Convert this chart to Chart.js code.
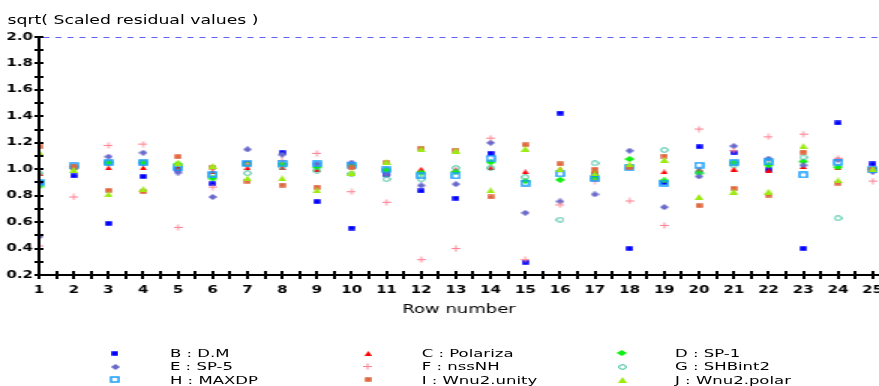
<!DOCTYPE html>
<html><head><meta charset="utf-8">
<script src="https://cdn.jsdelivr.net/npm/chart.js@4/dist/chart.umd.min.js"></script>
<style>
html,body{margin:0;padding:0;background:#fff;overflow:hidden;width:879px;height:386px}
#wrap{position:absolute;left:0;top:0;width:586px;height:386px;transform:scaleX(1.5);transform-origin:0 0;font-family:'DejaVu Sans',sans-serif;color:#000}
#c{position:absolute;left:0;top:0;width:586px;height:386px}
#title{position:absolute;left:5px;top:13px;font-size:11.5px;line-height:14px;white-space:nowrap}
.lg{position:absolute;font-size:11px;line-height:13px;white-space:nowrap}
.mk{position:absolute}
</style></head><body>
<div id="wrap"><canvas id="c" width="586" height="386"></canvas><div id="title">sqrt( Scaled residual values )</div><div id="legend"></div></div>
<script>
// ---- data ----
const rows = [1,2,3,4,5,6,7,8,9,10,11,12,13,14,15,16,17,18,19,20,21,22,23,24,25];
const seriesNames = ['B : D.M','C : Polariza','D : SP-1','E : SP-5','F : nssNH','G : SHBint2','H : MAXDP','I : Wnu2.unity','J : Wnu2.polar'];
const B_DM      = [0.90,0.95,0.59,0.945,1.00,0.89,1.04,1.125,0.755,0.555,0.96,0.836,0.78,1.12,0.296,1.425,0.95,0.40,0.90,1.17,1.125,0.995,0.40,1.35,1.04];
const C_Polariza= [0.97,1.01,1.01,1.01,1.01,0.98,1.01,1.01,0.995,1.03,1.00,1.00,0.995,1.01,0.98,1.00,0.99,1.02,0.98,1.00,1.00,0.99,1.02,1.01,1.00];
const D_SP1     = [0.87,1.02,1.05,1.05,1.04,0.93,1.04,1.04,1.015,1.03,0.995,0.975,0.98,1.053,0.91,0.92,0.93,1.077,0.915,0.97,1.05,1.03,1.058,1.015,1.00];
const E_SP5     = [0.49,1.02,1.095,1.125,0.975,0.79,1.15,1.11,1.04,1.05,0.96,0.877,0.887,1.20,0.67,0.756,0.81,1.14,0.713,0.945,1.175,1.08,1.03,1.07,0.98];
const F_nssNH   = [0.42,0.79,1.18,1.19,0.56,0.865,1.04,1.065,1.12,0.83,0.75,0.316,0.40,1.235,0.316,0.73,0.91,0.76,0.575,1.304,1.14,1.245,1.265,1.083,0.91];
const G_SHBint2 = [0.97,1.01,1.05,1.05,1.02,0.96,0.97,1.02,0.99,0.965,0.925,0.925,1.01,1.01,0.94,0.618,1.045,1.02,1.145,0.98,1.03,1.06,1.09,0.63,1.00];
const H_MAXDP   = [0.90,1.025,1.05,1.05,1.01,0.96,1.045,1.04,1.04,1.03,0.995,0.95,0.95,1.083,0.895,0.965,0.93,1.015,0.895,1.03,1.05,1.055,0.957,1.053,1.00];
const I_Wnu2unity=[1.17,1.02,0.84,0.83,1.095,1.015,0.91,0.88,0.865,1.01,1.05,1.16,1.145,0.79,1.185,1.04,1.00,1.015,1.10,0.725,0.855,0.805,1.13,0.895,1.00];
const J_Wnu2polar=[1.13,0.995,0.81,0.85,1.05,1.025,0.93,0.93,0.84,0.975,1.055,1.15,1.14,0.84,1.155,1.00,0.97,1.037,1.07,0.79,0.83,0.83,1.175,0.915,1.00];
const seriesValues = [B_DM,C_Polariza,D_SP1,E_SP5,F_nssNH,G_SHBint2,H_MAXDP,I_Wnu2unity,J_Wnu2polar];
const Y_MIN = 0.2, Y_MAX = 2.0, Y_STEP = 0.1;
const X_MIN = 1, X_MAX = 25.18, X_STEP = 0.5;

// ---- styles ----
const markerKinds = ['rectFill','tri','diamondWide','diamond','plus','circle','openRect','rectFill','triBig'];
const colors = ['#0000ff','#ff0000','#11ee11','#6a6acc','#ff8090','#33bb99','#1a9fff','#e0683f','#9bea10'];

function makeMarker(kind, color){
  const c = document.createElement('canvas');
  const dims = {rectFill:[5,5],tri:[5,5],triBig:[6,6],diamondWide:[7,6],diamond:[6,6],plus:[6,7],circle:[6,6],openRect:[7,7]}[kind];
  c.width = dims[0]; c.height = dims[1];
  const g = c.getContext('2d');
  g.fillStyle = color; g.strokeStyle = color;
  const w = dims[0], h = dims[1];
  g.beginPath();
  switch(kind){
    case 'rectFill': g.fillRect(0.25,0.25,w-0.5,h-0.5); break;
    case 'tri': case 'triBig': g.moveTo(w/2,0); g.lineTo(w,h); g.lineTo(0,h); g.closePath(); g.fill(); break;
    case 'diamondWide': case 'diamond': g.moveTo(w/2,0); g.lineTo(w,h/2); g.lineTo(w/2,h); g.lineTo(0,h/2); g.closePath(); g.fill(); break;
    case 'plus': g.lineWidth=1; g.moveTo(w/2,0.5); g.lineTo(w/2,h-0.5); g.moveTo(0,3.5); g.lineTo(w,3.5); g.stroke(); break;
    case 'circle': g.lineWidth=1; g.arc(w/2,h/2,2.3,0,Math.PI*2); g.stroke(); break;
    case 'openRect': g.lineWidth=1.5; g.strokeRect(1,1,w-2,h-2); break;
  }
  return c;
}

const datasets = seriesValues.map((vals,i)=>({
  label: seriesNames[i],
  data: rows.map((r,k)=>({x:r, y:vals[k]})),
  pointStyle: makeMarker(markerKinds[i], colors[i]),
  showLine:false,
  order: seriesValues.length - i
}));

const axisDeco = {
  id:'axisDeco',
  afterLayout(chart){
    const a = chart.chartArea, x = chart.scales.x;
    a.right = chart.width; a.width = a.right - a.left;
    x.right = chart.width; x.width = x.right - x.left;
    x.configure();
  },
  afterDraw(chart){
    const {ctx, chartArea:a, scales:{x,y}} = chart;
    ctx.save();
    const yt = Math.round(y.getPixelForValue(Y_MAX));
    const yb = Math.round(y.getPixelForValue(Y_MIN));
    const ax = Math.round(a.left);
    ctx.strokeStyle = '#6262ff'; ctx.lineWidth = 1; ctx.setLineDash([4,4]);
    ctx.beginPath(); ctx.moveTo(ax+3, yt+0.5); ctx.lineTo(a.right, yt+0.5); ctx.stroke();
    ctx.setLineDash([]);
    ctx.fillStyle = '#000000';
    // y axis (2 logical px wide -> 3 screen px after stretch)
    ctx.fillRect(ax - 1, yt, 2, yb - yt + 1);
    // x axis
    ctx.fillRect(ax, yb - 1, a.right - ax, 2);
    // y tick marks crossing the axis
    y.ticks.forEach(t=>{ const p = Math.round(y.getPixelForValue(t.value)); ctx.fillRect(ax-3, p-1, 6, 2); });
    // x tick marks crossing the axis
    x.ticks.forEach(t=>{ const p = Math.round(x.getPixelForValue(t.value)); ctx.fillRect(p-1, yb-4, 2, 8); });
    ctx.restore();
  }
};

const tickFont = {family:'DejaVu Sans', size:10, weight:'bold'};
new Chart(document.getElementById('c'), {
  type:'scatter',
  data:{datasets},
  options:{
    responsive:false, animation:false, devicePixelRatio:1, events:[],
    layout:{padding:{top:37,bottom:69,left:0,right:0}},
    plugins:{legend:{display:false}, tooltip:{enabled:false}, title:{display:false}},
    scales:{
      x:{type:'linear', min:X_MIN, max:X_MAX,
        afterFit(s){ s.height = 42; s.paddingLeft = 0; s.paddingRight = 0; },
        grid:{display:false, drawTicks:false}, border:{display:false},
        ticks:{stepSize:X_STEP, includeBounds:false, autoSkip:false, maxRotation:0, minRotation:0, padding:9, color:'#000', font:tickFont,
          callback:v=> Number.isInteger(v) ? String(v) : ''},
        title:{display:true, text:'Row number', color:'#000', font:{family:'DejaVu Sans', size:12}, padding:{top:0,bottom:0}}
      },
      y:{type:'linear', min:Y_MIN, max:Y_MAX,
        afterFit(s){ s.width = 26; },
        grid:{display:false, drawTicks:false}, border:{display:false},
        ticks:{stepSize:Y_STEP, autoSkip:false, padding:4, color:'#000', font:tickFont,
          callback:v=>{ const k = Math.round(v*10); return k%2===0 ? (k/10).toFixed(1) : ''; }}
      }
    }
  },
  plugins:[axisDeco]
});

// ---- legend ----
const lg = document.getElementById('legend');
const colMarker = [76.7, 245.3, 414.7], colText = [113.3, 281.1, 450];
seriesNames.forEach((name,i)=>{
  const r = Math.floor(i/3), c = i%3;
  const cy = 353.3 + 13.33*r;
  const m = makeMarker(markerKinds[i], colors[i]);
  m.className = 'mk';
  m.style.left = (colMarker[c] - m.width/2) + 'px';
  m.style.top = (cy - m.height/2) + 'px';
  lg.appendChild(m);
  const t = document.createElement('div');
  t.className = 'lg'; t.textContent = name;
  t.style.left = colText[c] + 'px';
  t.style.top = (347 + 13.33*r) + 'px';
  lg.appendChild(t);
});
</script>
</body></html>
